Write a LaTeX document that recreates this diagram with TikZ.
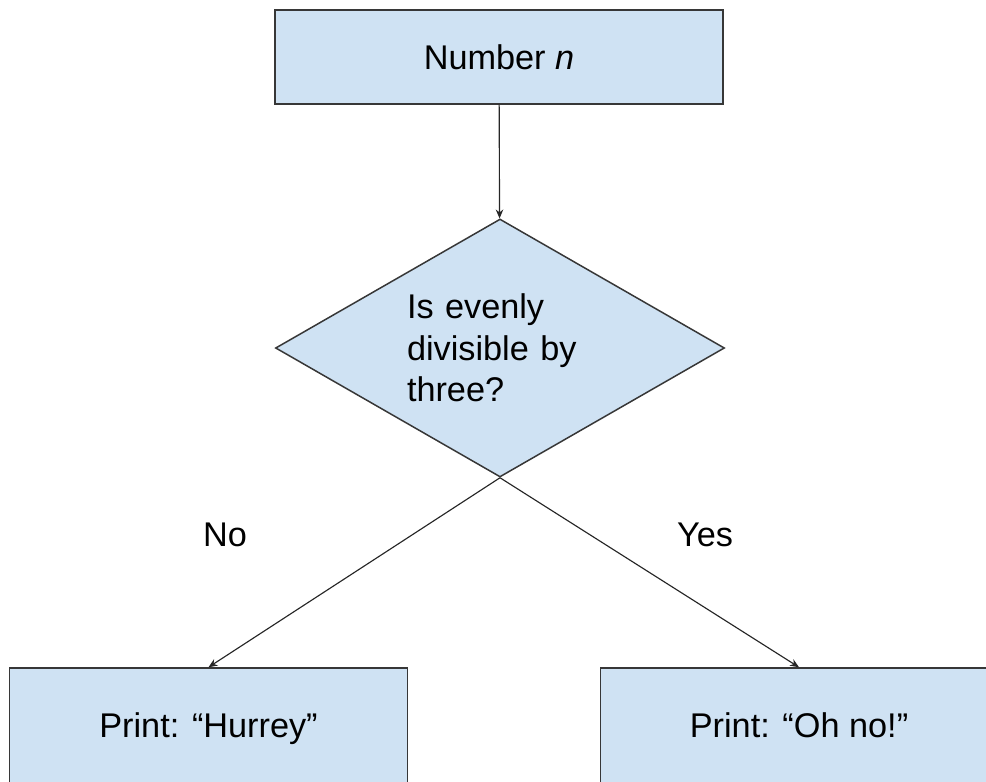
\documentclass[tikz,border=0pt]{standalone}
\usepackage{fontspec}
\setmainfont{Liberation Sans}
\usepackage{tikz}
\usetikzlibrary{shapes.geometric, arrows, arrows.meta, positioning}
\definecolor{flowblue}{RGB}{207,226,243}
\definecolor{flowline}{RGB}{55,55,55}
\tikzstyle{process} = [rectangle, minimum width=8.96cm, minimum height=1.88cm, text centered, draw=flowline, line width=0.85pt, fill=flowblue]
\tikzstyle{arrow} = [-{Stealth[length=1.8mm,width=1.5mm]}, line width=0.65pt, draw=black!85]

\begin{document}
\begin{tikzpicture}[
    font=\fontsize{19.5}{23.5}\selectfont,
    decision/.style={diamond, aspect=1.75, draw=flowline, line width=0.85pt, fill=flowblue, minimum width=8.98cm, minimum height=5.16cm, inner sep=0pt, text width=3.72cm, align=left},
    outbox/.style={process, minimum width=7.95cm, minimum height=2.6cm, text height=0.75em, text depth=0.25em},
    branch/.style={font=\fontsize{19.5}{23.5}\selectfont}
]
\useasboundingbox (0,0) rectangle (19.72,-15.62);

% Nodes
\node[process] (number) at (9.98,-1.14) {Number \textit{n}};
\node[decision] (divisible) at (10.0,-6.96) {Is evenly\\divisible by\\three?};
\node[outbox] (hurrey) at (4.17,-14.66) {Print: “Hurrey”};
\node[outbox] (ohno) at (15.98,-14.66) {Print: “Oh no!”};

% Labels
\node[branch] (nolabel) at (4.5,-10.7) {No};
\node[branch] (yeslabel) at (14.1,-10.7) {Yes};

% Arrows
\draw[arrow] (number) -- (divisible);
\draw[arrow] (divisible.south) -- (hurrey.north);
\draw[arrow] (divisible.south) -- (ohno.north);

\end{tikzpicture}
\end{document}
